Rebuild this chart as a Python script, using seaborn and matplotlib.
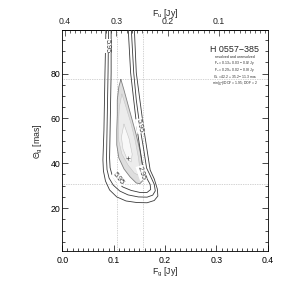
import numpy as np
import pandas as pd
import matplotlib
matplotlib.use("Agg")
import matplotlib.pyplot as plt
import seaborn as sns
from matplotlib.ticker import MultipleLocator

# ---------------- data ----------------
F_TOT = 0.405                       # total flux used for the top axis F_u = F_tot - F_g
best_fg, best_theta = 0.128, 42.2   # best fit
fg_err = [0.106, 0.157]             # F_g range (dotted verticals)
theta_err = [30.9, 77.4]            # Theta range (dotted horizontals)

# outer open contours (F_g [Jy], Theta [mas])
c3_fg = [0.085, 0.083, 0.081, 0.079, 0.080, 0.084, 0.092, 0.106, 0.124, 0.145, 0.165, 0.179, 0.186,
         0.185, 0.179, 0.171, 0.165, 0.158, 0.151, 0.144, 0.140]
c3_th = [101, 80.3, 54.8, 41.5, 36.6, 32.1, 28.1, 25.0, 23.2, 22.5, 22.4, 23.4, 25.4,
         28.5, 33.0, 37.0, 45.9, 56.2, 68.2, 80.3, 101]
c2_fg = [0.090, 0.089, 0.087, 0.086, 0.087, 0.091, 0.099, 0.112, 0.128, 0.148, 0.165, 0.176, 0.181,
         0.179, 0.171, 0.164, 0.158, 0.151, 0.144, 0.139, 0.134]
c2_th = [101, 80.3, 54.8, 42.0, 37.2, 33.4, 30.3, 27.6, 25.9, 25.0, 24.9, 25.8, 27.7,
         30.6, 34.6, 37.9, 46.8, 56.2, 68.2, 80.3, 101]
c1_fg = [0.095, 0.095, 0.093, 0.092, 0.093, 0.097, 0.105, 0.118, 0.134, 0.151, 0.165, 0.172, 0.171,
         0.163, 0.157, 0.151, 0.145, 0.139, 0.133, 0.128]
c1_th = [101, 80.3, 54.8, 42.4, 38.0, 34.6, 31.7, 29.4, 27.9, 27.0, 27.0, 28.3, 30.6,
         33.9, 37.9, 46.8, 56.2, 68.2, 80.3, 101]
# innermost closed contour and its shaded interior
c0_fg = [0.114, 0.120, 0.128, 0.136, 0.144, 0.151, 0.156, 0.158, 0.156, 0.151, 0.144,
         0.132, 0.120, 0.110, 0.106, 0.106, 0.107, 0.107, 0.110, 0.114]
c0_th = [77.4, 72.7, 66.0, 59.3, 52.6, 45.9, 39.2, 34.8, 32.1, 30.9, 31.2,
         33.9, 37.5, 42.4, 48.2, 54.8, 61.5, 68.2, 74.1, 77.4]
c00_fg = [0.116, 0.124, 0.134, 0.142, 0.148, 0.151, 0.147, 0.140, 0.128, 0.116, 0.110, 0.109, 0.111, 0.116]
c00_th = [70.9, 65.1, 57.5, 49.9, 42.8, 37.5, 34.8, 35.7, 39.2, 44.1, 49.9, 57.5, 65.1, 70.9]
c000_fg = [0.120, 0.130, 0.136, 0.134, 0.126, 0.118, 0.115, 0.120]
c000_th = [57.5, 50.9, 44.1, 40.6, 41.9, 46.4, 51.7, 57.5]

# contour labels: text, F_g, Theta, rotation
lab_txt = ["5.95", "5.95", "2.95", "5.95"]
lab_fg = [0.088, 0.151, 0.154, 0.109]
lab_th = [92.3, 56.6, 35.7, 33.0]
lab_rot = [-90, -80, -72, -52]

xticks = [0.0, 0.1, 0.2, 0.3, 0.4]
yticks = [20, 40, 60, 80]
top_ticks = [0.4, 0.3, 0.2, 0.1]

title = "H 0557\u2212385"
subtitle = "resolved and unresolved"
stats = ["F$_\\mathrm{g}$ = 0.13 + 0.03 \u2212 0.02 Jy",
         "F$_\\mathrm{u}$ = 0.29 + 0.02 \u2212 0.03 Jy",
         "\u0398$_\\mathrm{g}$ = 42.2 + 35.2 \u2212 11.3 mas",
         "min(\u03c7$^\\mathrm{2}$)/DOF = 1.95; DOF = 2"]
stats_th = [84.6, 81.7, 78.5, 75.3]

# ---------------- style ----------------
sns.set_style("ticks")
plt.rcParams["font.family"] = ["Liberation Sans", "DejaVu Sans"]
plt.rcParams["mathtext.fontset"] = "custom"
plt.rcParams["mathtext.rm"] = "Liberation Sans"
plt.rcParams["mathtext.it"] = "Liberation Sans:italic"

fig = plt.figure(figsize=(2.99, 2.94), dpi=100)
ax = fig.add_axes([0.2085, 0.1463, 0.6870, 0.7500])
ax.set_xlim(0.0, 0.4)
ax.set_ylim(0.9, 99.2)

# dotted error lines
for v in fg_err:
    ax.axvline(v, color="#a8a8a8", lw=0.5, ls=(0, (1, 1.5)), zorder=1)
for v in theta_err:
    ax.axhline(v, color="#a8a8a8", lw=0.5, ls=(0, (1, 1.5)), zorder=1)

# shaded interior
ax.fill(c0_fg, c0_th, color="#dedede", lw=0, zorder=2)
ax.fill(c00_fg, c00_th, color="#ececec", lw=0, zorder=2)
ax.fill(c000_fg, c000_th, color="#f8f8f8", lw=0, zorder=2)
for fx, fy in [(c00_fg, c00_th), (c000_fg, c000_th)]:
    sns.lineplot(x=fx, y=fy, sort=False, estimator=None, ax=ax, color="#c4c4c4", lw=0.4, zorder=3)

sns.lineplot(x=c0_fg, y=c0_th, sort=False, estimator=None, ax=ax, color="#808080", lw=0.6, zorder=4)
for fx, fy in [(c1_fg, c1_th), (c2_fg, c2_th), (c3_fg, c3_th)]:
    sns.lineplot(x=fx, y=fy, sort=False, estimator=None, ax=ax, color="#3a3a3a", lw=0.6, zorder=4)

# best fit marker
ax.plot([best_fg], [best_theta], marker="+", ms=3, mew=0.5, color="#555555", zorder=5)

# contour labels
for t, fx, fy, r in zip(lab_txt, lab_fg, lab_th, lab_rot):
    ax.text(fx, fy, t, fontsize=5.2, rotation=r, ha="center", va="center", color="#333333",
            bbox=dict(facecolor="white", edgecolor="none", pad=0.2), zorder=6)

# annotation text
xc = 0.336
ax.text(xc, 90.9, title, fontsize=6.4, ha="center", va="center", zorder=7)
ax.text(xc, 87.6, subtitle, fontsize=2.6, ha="center", va="center", zorder=7)
for s, yv in zip(stats, stats_th):
    ax.text(xc, yv, s, fontsize=2.4, ha="center", va="center", zorder=7)

# axes & ticks
ax.set_xticks(xticks)
ax.set_xticklabels([f"{v:.1f}" for v in xticks])
ax.set_yticks(yticks)
ax.xaxis.set_minor_locator(MultipleLocator(0.01))
ax.yaxis.set_minor_locator(MultipleLocator(5))
ax.tick_params(which="both", direction="in", width=0.5, colors="black", labelsize=6.3,
               top=False, right=True)
ax.tick_params(which="major", length=4)
ax.tick_params(which="minor", length=2)
ax.tick_params(axis="x", pad=3.5)
ax.tick_params(axis="y", pad=1.5)
for sp in ax.spines.values():
    sp.set_linewidth(0.6)
    sp.set_color("black")
ax.set_xlabel("F$_\\mathrm{g}$ [Jy]", fontsize=6.3, labelpad=1)
ax.set_ylabel("\u0398$_\\mathrm{g}$ [mas]", fontsize=6.3, labelpad=4)

fwd = lambda f: F_TOT - f
sec = ax.secondary_xaxis("top", functions=(fwd, fwd))
sec.set_xticks(top_ticks)
sec.set_xticklabels([f"{v:.1f}" for v in top_ticks])
sec.xaxis.set_minor_locator(MultipleLocator(0.01))
sec.tick_params(which="both", direction="in", width=0.5, labelsize=6.3, pad=3)
sec.tick_params(which="major", length=4)
sec.tick_params(which="minor", length=2)
sec.spines["top"].set_linewidth(0.6)
sec.set_xlabel("F$_\\mathrm{u}$ [Jy]", fontsize=6.3, labelpad=1.0)

fig.savefig("out.png", dpi=100)
